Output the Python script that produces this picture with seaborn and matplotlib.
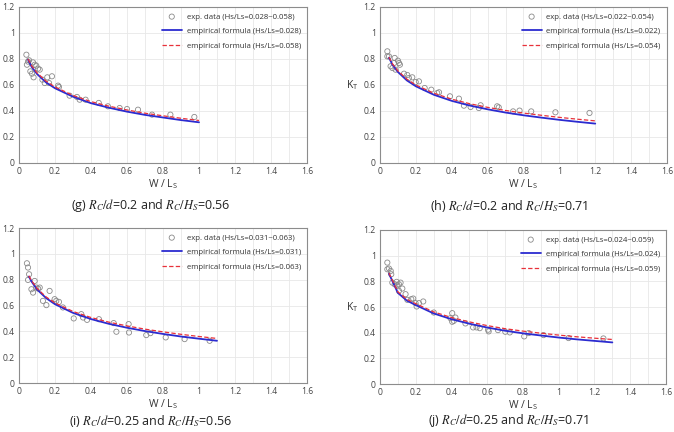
import matplotlib
matplotlib.use("Agg")
import matplotlib.pyplot as plt
from matplotlib.ticker import MultipleLocator, FuncFormatter
import numpy as np
import pandas as pd
import seaborn as sns

# ---- panel (g) ----
g_exp_x = [0.041, 0.044, 0.05, 0.056, 0.063, 0.072, 0.081, 0.078, 0.087, 0.096, 0.106, 0.115,
           0.13, 0.143, 0.157, 0.167, 0.183, 0.217, 0.222, 0.281, 0.322, 0.337, 0.37, 0.443,
           0.494, 0.559, 0.6, 0.661, 0.739, 0.841, 0.974]
g_exp_y = [0.833, 0.756, 0.78, 0.79, 0.705, 0.687, 0.659, 0.774, 0.756, 0.749, 0.726, 0.718,
           0.641, 0.615, 0.659, 0.615, 0.667, 0.595, 0.585, 0.518, 0.508, 0.487, 0.487, 0.462,
           0.436, 0.423, 0.415, 0.41, 0.372, 0.372, 0.354]
g_fit_x = [0.05, 0.07, 0.1, 0.15, 0.2, 0.3, 0.4, 0.5, 0.6, 0.7, 0.8, 0.9, 1.0]
g_low_y = [0.795, 0.74, 0.685, 0.62, 0.575, 0.51, 0.46, 0.425, 0.395, 0.37, 0.35, 0.33, 0.313]
g_high_y = [0.80, 0.748, 0.694, 0.63, 0.585, 0.52, 0.472, 0.437, 0.408, 0.383, 0.363, 0.344, 0.327]

# ---- panel (h) ----
h_exp_x = [0.041, 0.041, 0.05, 0.059, 0.069, 0.078, 0.082, 0.087, 0.1, 0.106, 0.111, 0.134,
           0.152, 0.161, 0.18, 0.199, 0.217, 0.249, 0.286, 0.319, 0.329, 0.39, 0.44, 0.468,
           0.505, 0.551, 0.561, 0.653, 0.662, 0.742, 0.778, 0.843, 0.978, 1.168]
h_exp_y = [0.859, 0.82, 0.82, 0.744, 0.731, 0.769, 0.808, 0.718, 0.787, 0.769, 0.756, 0.687,
           0.677, 0.654, 0.659, 0.623, 0.628, 0.577, 0.564, 0.538, 0.544, 0.513, 0.495, 0.441,
           0.431, 0.423, 0.444, 0.436, 0.428, 0.397, 0.403, 0.397, 0.39, 0.385]
h_fit_x = [0.05, 0.07, 0.1, 0.15, 0.2, 0.3, 0.4, 0.5, 0.6, 0.7, 0.8, 0.9, 1.0, 1.1, 1.2]
h_low_y = [0.81, 0.755, 0.70, 0.635, 0.59, 0.525, 0.478, 0.442, 0.413, 0.388, 0.367, 0.349,
           0.332, 0.317, 0.303]
h_high_y = [0.815, 0.762, 0.708, 0.645, 0.60, 0.537, 0.491, 0.456, 0.428, 0.404, 0.384, 0.367,
            0.351, 0.337, 0.324]

# ---- panel (i) ----
i_exp_x = [0.044, 0.05, 0.056, 0.05, 0.069, 0.078, 0.087, 0.096, 0.106, 0.115, 0.133, 0.152,
           0.17, 0.198, 0.207, 0.222, 0.244, 0.304, 0.346, 0.356, 0.378, 0.444, 0.526, 0.541,
           0.609, 0.611, 0.707, 0.73, 0.815, 0.92, 1.059]
i_exp_y = [0.927, 0.894, 0.842, 0.798, 0.726, 0.70, 0.79, 0.739, 0.731, 0.739, 0.636, 0.603,
           0.713, 0.649, 0.636, 0.628, 0.585, 0.50, 0.533, 0.507, 0.489, 0.494, 0.464, 0.397,
           0.456, 0.391, 0.371, 0.386, 0.353, 0.34, 0.327]
i_fit_x = [0.055, 0.07, 0.1, 0.15, 0.2, 0.3, 0.4, 0.5, 0.6, 0.7, 0.8, 0.9, 1.0, 1.1]
i_low_y = [0.824, 0.785, 0.725, 0.658, 0.61, 0.543, 0.495, 0.458, 0.428, 0.402, 0.38, 0.36,
           0.343, 0.327]
i_high_y = [0.83, 0.792, 0.733, 0.667, 0.62, 0.554, 0.507, 0.471, 0.442, 0.417, 0.396, 0.377,
            0.36, 0.345]

# ---- panel (j) ----
j_exp_x = [0.041, 0.041, 0.05, 0.06, 0.063, 0.069, 0.082, 0.093, 0.097, 0.106, 0.106, 0.115,
           0.125, 0.143, 0.153, 0.175, 0.186, 0.199, 0.205, 0.218, 0.242, 0.301, 0.394, 0.404,
           0.422, 0.404, 0.413, 0.478, 0.521, 0.54, 0.558, 0.605, 0.608, 0.66, 0.701, 0.726,
           0.807, 0.832, 0.915, 1.055, 1.25]
j_exp_y = [0.946, 0.894, 0.90, 0.881, 0.855, 0.79, 0.777, 0.796, 0.77, 0.777, 0.726, 0.79,
           0.744, 0.70, 0.656, 0.661, 0.666, 0.63, 0.604, 0.63, 0.643, 0.557, 0.513, 0.552,
           0.518, 0.485, 0.492, 0.472, 0.441, 0.441, 0.435, 0.423, 0.41, 0.42, 0.407, 0.402,
           0.371, 0.397, 0.381, 0.358, 0.355]
j_fit_x = [0.05, 0.07, 0.1, 0.15, 0.2, 0.3, 0.4, 0.5, 0.6, 0.7, 0.8, 0.9, 1.0, 1.1, 1.2, 1.3]
j_low_y = [0.86, 0.80, 0.71, 0.65, 0.615, 0.55, 0.505, 0.47, 0.44, 0.415, 0.395, 0.378, 0.362,
           0.348, 0.336, 0.324]
j_high_y = [0.865, 0.807, 0.718, 0.66, 0.626, 0.562, 0.518, 0.484, 0.455, 0.431, 0.412, 0.396,
            0.381, 0.368, 0.357, 0.347]

ranges = [("0.028", "0.058"), ("0.022", "0.054"), ("0.031", "0.063"), ("0.024", "0.059")]
captions = [r"(g) $R_C/d$=0.2 and $R_C/H_S$=0.56",
            r"(h) $R_C/d$=0.2 and $R_C/H_S$=0.71",
            r"(i) $R_C/d$=0.25 and $R_C/H_S$=0.56",
            r"(j) $R_C/d$=0.25 and $R_C/H_S$=0.71"]

sns.set_style("white")
plt.rcParams['font.family'] = ['Open Sans', 'DejaVu Sans']
plt.rcParams['mathtext.fontset'] = 'stix'

fig = plt.figure(figsize=(6.74, 4.32), dpi=100)
boxes = [(0.0282, 0.6227, 0.4273, 0.3611),
         (0.5638, 0.6227, 0.4258, 0.3611),
         (0.0282, 0.1134, 0.4273, 0.3588),
         (0.5638, 0.1111, 0.4243, 0.3565)]
# caption centres (figure fraction)
cap_pos = [(0.224, 0.524), (0.755, 0.524), (0.224, 0.026), (0.755, 0.026)]

panels = [(g_exp_x, g_exp_y, g_fit_x, g_low_y, g_high_y),
          (h_exp_x, h_exp_y, h_fit_x, h_low_y, h_high_y),
          (i_exp_x, i_exp_y, i_fit_x, i_low_y, i_high_y),
          (j_exp_x, j_exp_y, j_fit_x, j_low_y, j_high_y)]

fmt = FuncFormatter(lambda v, p: ("%g" % round(v, 2)))

for k, (ex, ey, fx, lo, hi) in enumerate(panels):
    ax = fig.add_axes(boxes[k])
    lo_name, hi_name = ranges[k]
    exp_df = pd.DataFrame({"x": ex, "y": ey})
    fit_df = pd.DataFrame({"x": fx, "low": lo, "high": hi})

    sns.scatterplot(data=exp_df, x="x", y="y", ax=ax, marker="o", s=14,
                    facecolor="none", edgecolor="#8a8a8a", linewidth=0.6, zorder=3,
                    label="exp. data (Hs/Ls=%s~%s)" % (lo_name, hi_name))
    sns.lineplot(data=fit_df, x="x", y="low", ax=ax, color="#2b2bd0", linewidth=1.3,
                 zorder=4, label="empirical formula (Hs/Ls=%s)" % lo_name)
    sns.lineplot(data=fit_df, x="x", y="high", ax=ax, color="#e8313a", linewidth=0.9,
                 linestyle=(0, (3.5, 1.8)), zorder=5,
                 label="empirical formula (Hs/Ls=%s)" % hi_name)

    ax.set_xlim(0, 1.6)
    ax.set_ylim(0, 1.2)
    ax.xaxis.set_major_locator(MultipleLocator(0.2))
    ax.yaxis.set_major_locator(MultipleLocator(0.2))
    ax.xaxis.set_minor_locator(MultipleLocator(0.1))
    ax.xaxis.set_major_formatter(fmt)
    ax.yaxis.set_major_formatter(fmt)
    ax.grid(True, which="both", axis="x", color="#e8e8e8", linewidth=0.6)
    ax.grid(True, which="major", axis="y", color="#e8e8e8", linewidth=0.6)
    ax.set_axisbelow(True)
    ax.tick_params(axis="both", which="both", length=0, labelsize=6.2,
                   labelcolor="#444444", pad=3)
    for sp in ax.spines.values():
        sp.set_color("#8c8c8c")
        sp.set_linewidth(0.8)

    ax.set_xlabel(r"W / L$_\mathregular{S}$", fontsize=7.5, color="#333333", labelpad=1)
    if k % 2 == 1:
        ax.set_ylabel(r"K$_\mathregular{T}$", fontsize=7.5, color="#333333",
                      rotation=0, labelpad=8, va="center")
    else:
        ax.set_ylabel("")

    leg = ax.legend(loc="upper right", frameon=False, fontsize=5.6, labelspacing=0.9,
                    handlelength=2.6, handletextpad=0.6, borderaxespad=0.4,
                    markerscale=1.0)
    for t in leg.get_texts():
        t.set_color("#333333")

    fig.text(cap_pos[k][0], cap_pos[k][1], captions[k], ha="center", va="center",
             fontsize=9, color="#222222")

fig.savefig("out.png", dpi=100)
